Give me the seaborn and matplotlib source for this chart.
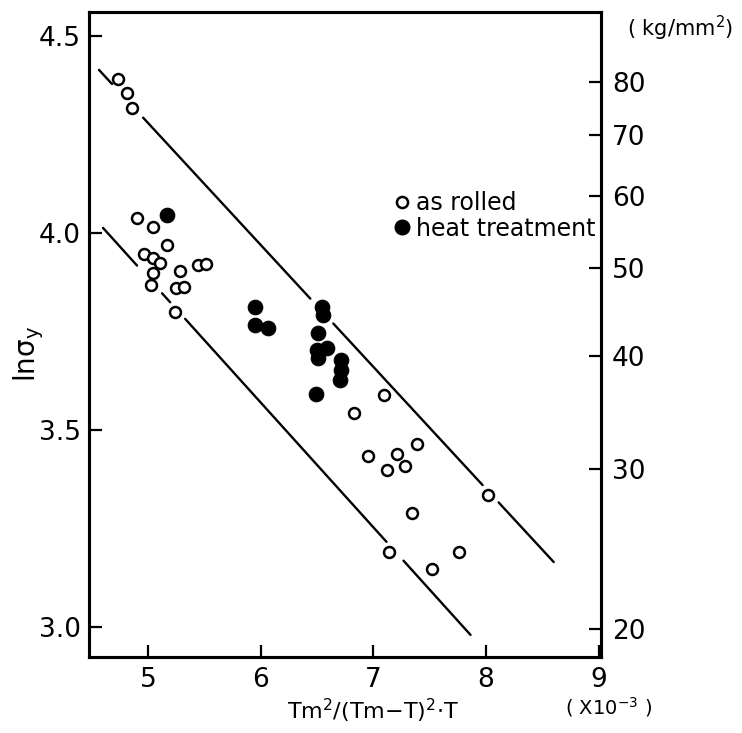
import numpy as np
import pandas as pd
import seaborn as sns
import matplotlib
matplotlib.use("Agg")
import matplotlib.pyplot as plt
from matplotlib.lines import Line2D

# data
rolled_x = [4.73, 4.81, 4.86, 4.90, 5.04, 5.17, 4.96, 5.04, 5.11, 5.04, 5.03,
            5.28, 5.25, 5.32, 5.44, 5.51, 5.24, 7.09, 6.83, 7.39, 6.95, 7.21,
            7.12, 7.28, 8.02, 7.34, 7.14, 7.76, 7.52]
rolled_y = [4.391, 4.355, 4.317, 4.038, 4.015, 3.970, 3.947, 3.937, 3.924, 3.898, 3.868,
            3.904, 3.860, 3.863, 3.919, 3.921, 3.800, 3.589, 3.543, 3.464, 3.434, 3.439,
            3.398, 3.409, 3.335, 3.289, 3.190, 3.190, 3.147]

heat_x = [5.17, 5.95, 5.95, 6.06, 6.54, 6.55, 6.51, 6.50, 6.59, 6.51, 6.71, 6.71, 6.70, 6.49]
heat_y = [4.046, 3.812, 3.766, 3.759, 3.812, 3.792, 3.746, 3.703, 3.708, 3.683, 3.678,
          3.652, 3.627, 3.591]

# bounding lines (end points) and the gaps left around the circles
upper_x = [4.564, 8.60]
upper_y = [4.414, 3.165]
upper_gaps = [(4.68, 4.956), (6.44, 6.644), (7.969, 8.111)]
lower_x = [4.60, 7.862]
lower_y = [4.013, 2.980]
lower_gaps = [(4.902, 5.124), (5.196, 5.329), (7.116, 7.267)]

xticks = [5, 6, 7, 8, 9]
yticks = [3.0, 3.5, 4.0, 4.5]
kg_ticks = [20, 30, 40, 50, 60, 70, 80]

sns.set_style("ticks")
plt.rcParams['font.family'] = ['DejaVu Sans']
plt.rcParams['text.color'] = 'black'
plt.rcParams['axes.edgecolor'] = 'black'
plt.rcParams['xtick.color'] = 'black'
plt.rcParams['ytick.color'] = 'black'

fig = plt.figure(figsize=(7.42, 7.33), dpi=100)
ax = fig.add_axes([0.120, 0.1037, 0.690, 0.880])


def segments(xs, ys, gaps):
    # split the line at the gaps
    bounds = [xs[0]]
    for a, b in gaps:
        bounds += [a, b]
    bounds.append(xs[1])
    out = []
    for i in range(0, len(bounds), 2):
        sx = [bounds[i], bounds[i + 1]]
        sy = list(np.interp(sx, xs, ys))
        out.append((sx, sy))
    return out


for xs, ys, gaps in [(upper_x, upper_y, upper_gaps), (lower_x, lower_y, lower_gaps)]:
    for sx, sy in segments(xs, ys, gaps):
        sns.lineplot(x=sx, y=sy, ax=ax, color='black', linewidth=1.7)

rolled = pd.DataFrame({'x': rolled_x, 'y': rolled_y})
heat = pd.DataFrame({'x': heat_x, 'y': heat_y})

sns.scatterplot(data=rolled, x='x', y='y', ax=ax, s=62, facecolor='white',
                edgecolor='black', linewidth=1.8, zorder=3)
sns.scatterplot(data=heat, x='x', y='y', ax=ax, s=110, color='black',
                edgecolor='black', linewidth=0.8, zorder=3)

ax.set_xlim(4.476, 9.02)
ax.set_ylim(2.924, 4.561)
ax.set_xticks(xticks)
ax.set_xticklabels([str(t) for t in xticks])
ax.set_yticks(yticks)
ax.set_yticklabels(['3.0', '3.5', '4.0', '4.5'])
ax.set_xlabel('')
ax.set_ylabel('')
ax.tick_params(direction='in', length=9, width=1.6, labelsize=19, pad=6, colors='black')
ax.tick_params(axis='x', pad=7)
for sp in ax.spines.values():
    sp.set_linewidth(2.2)
    sp.set_color('black')
    sp.set_visible(True)

ax2 = ax.twinx()
ax2.set_ylim(ax.get_ylim())
ax2.set_yticks(np.log(kg_ticks))
ax2.set_yticklabels([str(v) for v in kg_ticks])
ax2.tick_params(direction='in', length=9, width=1.6, labelsize=19, pad=8, colors='black')
for sp in ax2.spines.values():
    sp.set_linewidth(2.2)
    sp.set_color('black')

ax.text(-0.117, 0.47, 'ln$\\mathregular{\\sigma_y}$', transform=ax.transAxes,
        rotation=90, ha='center', va='center', fontsize=20)
ax.text(0.554, -0.084, 'Tm$^2$/(Tm$-$T)$^2$$\\cdot$T', transform=ax.transAxes,
        ha='center', va='center', fontsize=16)
ax.text(1.015, -0.078, '( X10$^{-3}$ )', transform=ax.transAxes,
        ha='center', va='center', fontsize=14)
ax.text(1.155, 0.975, '( kg/mm$^2$)', transform=ax.transAxes,
        ha='center', va='center', fontsize=15)

handles = [
    Line2D([], [], marker='o', linestyle='', markersize=8, markerfacecolor='white',
           markeredgecolor='black', markeredgewidth=1.8),
    Line2D([], [], marker='o', linestyle='', markersize=10.5, color='black'),
]
ax.legend(handles, ['as rolled', 'heat treatment'], loc='upper left',
          bbox_to_anchor=(0.565, 0.74), frameon=False, fontsize=17,
          handletextpad=0.1, labelspacing=0.05, borderpad=0, handlelength=1.0)

fig.savefig('out.png', dpi=100)
